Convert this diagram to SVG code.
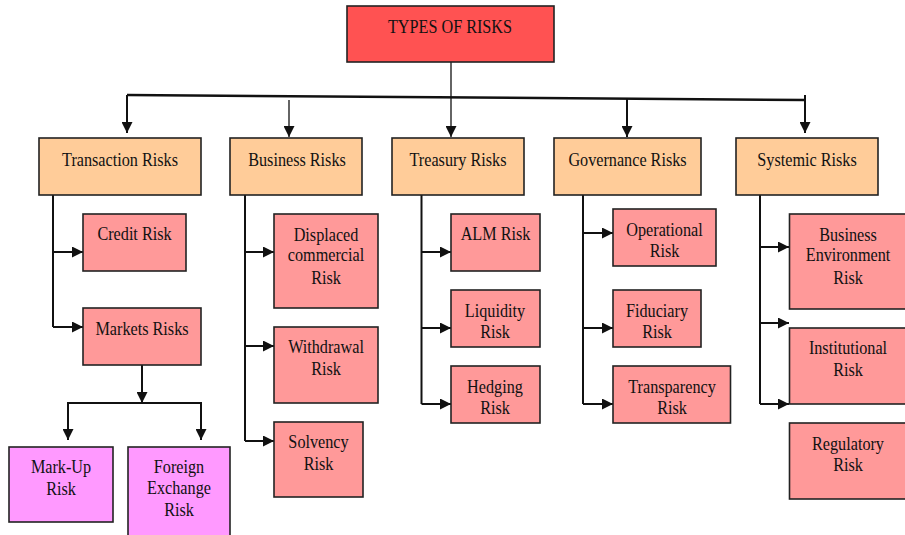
<svg xmlns="http://www.w3.org/2000/svg" width="905" height="535" viewBox="0 0 905 535">
<style>
text{font-family:"Liberation Serif","Times New Roman",serif;font-size:18px;fill:#111;text-anchor:middle}
.box{stroke:#222;stroke-width:1.6}
.top{fill:#FF5252}
.cat{fill:#FFCC99}
.sub{fill:#FF9999}
.leaf{fill:#FF99FF}
.ln{stroke:#111;stroke-width:2;fill:none}
.thin{stroke:#111;stroke-width:1.3;fill:none}
</style>
<defs>
<marker id="ah" markerUnits="userSpaceOnUse" markerWidth="11" markerHeight="11" refX="10" refY="5" orient="auto" viewBox="0 0 10 10">
<path d="M0,0 L10,5 L0,10 z" fill="#111"/>
</marker>
</defs>
<g id="connectors">
<line class="thin" x1="451" y1="62" x2="451" y2="137" marker-end="url(#ah)"/>
<line x1="127" y1="95" x2="805" y2="100" stroke="#111" stroke-width="2.6"/>
<line class="ln" x1="127" y1="95" x2="127" y2="133" marker-end="url(#ah)"/>
<line class="thin" x1="289" y1="100" x2="289" y2="137" marker-end="url(#ah)"/>
<line class="ln" x1="627" y1="99" x2="627" y2="137" marker-end="url(#ah)"/>
<line class="ln" x1="805" y1="95" x2="805" y2="133" marker-end="url(#ah)"/>
<polyline class="ln" points="53,195 53,327"/>
<line class="ln" x1="53" y1="252" x2="83" y2="252" marker-end="url(#ah)"/>
<line class="ln" x1="53" y1="327" x2="83" y2="327" marker-end="url(#ah)"/>
<line class="ln" x1="142" y1="365" x2="142" y2="403" marker-end="url(#ah)"/>
<polyline class="ln" points="68,403 201,403"/>
<line class="ln" x1="68" y1="402" x2="68" y2="440" marker-end="url(#ah)"/>
<line class="ln" x1="201" y1="402" x2="201" y2="440" marker-end="url(#ah)"/>
<polyline class="ln" points="245,195 245,441"/>
<line class="ln" x1="245" y1="252" x2="274" y2="252" marker-end="url(#ah)"/>
<line class="ln" x1="245" y1="346" x2="274" y2="346" marker-end="url(#ah)"/>
<line class="ln" x1="245" y1="441" x2="274" y2="441" marker-end="url(#ah)"/>
<polyline class="ln" points="421.5,195 421.5,404"/>
<line class="ln" x1="421.5" y1="252" x2="451" y2="252" marker-end="url(#ah)"/>
<line class="ln" x1="421.5" y1="328" x2="451" y2="328" marker-end="url(#ah)"/>
<line class="ln" x1="421.5" y1="404" x2="451" y2="404" marker-end="url(#ah)"/>
<polyline class="ln" points="583,195 583,404"/>
<line class="ln" x1="583" y1="233" x2="613" y2="233" marker-end="url(#ah)"/>
<line class="ln" x1="583" y1="328" x2="613" y2="328" marker-end="url(#ah)"/>
<line class="ln" x1="583" y1="404" x2="613" y2="404" marker-end="url(#ah)"/>
<polyline class="ln" points="760,195 760,404"/>
<line class="ln" x1="760" y1="247" x2="789" y2="247" marker-end="url(#ah)"/>
<line class="ln" x1="760" y1="323" x2="789" y2="323" marker-end="url(#ah)"/>
<line class="ln" x1="760" y1="404" x2="789" y2="404" marker-end="url(#ah)"/>
</g>
<g id="types-of-risks"><rect class="box top" x="347" y="6" width="207" height="56"/><text transform="translate(450,33) scale(0.9,1)">TYPES OF RISKS</text></g>
<g id="transaction-risks"><rect class="box cat" x="39" y="138" width="162" height="57"/><text transform="translate(120,166) scale(0.9,1)">Transaction Risks</text></g>
<g id="business-risks"><rect class="box cat" x="230" y="138" width="132" height="57"/><text transform="translate(297,166) scale(0.9,1)">Business Risks</text></g>
<g id="treasury-risks"><rect class="box cat" x="392" y="138" width="132" height="57"/><text transform="translate(458,166) scale(0.9,1)">Treasury Risks</text></g>
<g id="governance-risks"><rect class="box cat" x="554" y="138" width="147" height="57"/><text transform="translate(627.5,166) scale(0.9,1)">Governance Risks</text></g>
<g id="systemic-risks"><rect class="box cat" x="736" y="138" width="142" height="57"/><text transform="translate(807,166) scale(0.9,1)">Systemic Risks</text></g>
<g id="credit-risk"><rect class="box sub" x="83" y="214" width="103" height="57"/><text transform="translate(134.5,240) scale(0.9,1)">Credit Risk</text></g>
<g id="markets-risks"><rect class="box sub" x="83" y="308" width="118" height="57"/><text transform="translate(142,335) scale(0.9,1)">Markets Risks</text></g>
<g id="mark-up-risk"><rect class="box leaf" x="9" y="447" width="104" height="75"/><text transform="translate(61,473) scale(0.9,1)">Mark-Up</text><text transform="translate(61,495) scale(0.9,1)">Risk</text></g>
<g id="foreign-exchange-risk"><rect class="box leaf" x="128" y="447" width="102" height="95"/><text transform="translate(179,473) scale(0.9,1)">Foreign</text><text transform="translate(179,494) scale(0.9,1)">Exchange</text><text transform="translate(179,516) scale(0.9,1)">Risk</text></g>
<g id="displaced-commercial-risk"><rect class="box sub" x="274" y="214" width="104" height="94"/><text transform="translate(326,241) scale(0.9,1)">Displaced</text><text transform="translate(326,261) scale(0.9,1)">commercial</text><text transform="translate(326,284) scale(0.9,1)">Risk</text></g>
<g id="withdrawal-risk"><rect class="box sub" x="274" y="327" width="104" height="76"/><text transform="translate(326,353) scale(0.9,1)">Withdrawal</text><text transform="translate(326,375) scale(0.9,1)">Risk</text></g>
<g id="solvency-risk"><rect class="box sub" x="274" y="422" width="89" height="75"/><text transform="translate(318.5,448) scale(0.9,1)">Solvency</text><text transform="translate(318.5,470) scale(0.9,1)">Risk</text></g>
<g id="alm-risk"><rect class="box sub" x="451" y="214" width="89" height="57"/><text transform="translate(495.5,240) scale(0.9,1)">ALM Risk</text></g>
<g id="liquidity-risk"><rect class="box sub" x="451" y="290" width="89" height="57"/><text transform="translate(495,316.5) scale(0.9,1)">Liquidity</text><text transform="translate(495,337.5) scale(0.9,1)">Risk</text></g>
<g id="hedging-risk"><rect class="box sub" x="451" y="366" width="89" height="57"/><text transform="translate(495,392.5) scale(0.9,1)">Hedging</text><text transform="translate(495,413.5) scale(0.9,1)">Risk</text></g>
<g id="operational-risk"><rect class="box sub" x="613" y="209" width="103" height="57"/><text transform="translate(664.5,236) scale(0.9,1)">Operational</text><text transform="translate(664.5,257) scale(0.9,1)">Risk</text></g>
<g id="fiduciary-risk"><rect class="box sub" x="613" y="290" width="88" height="57"/><text transform="translate(657,316.5) scale(0.9,1)">Fiduciary</text><text transform="translate(657,337.5) scale(0.9,1)">Risk</text></g>
<g id="transparency-risk"><rect class="box sub" x="613" y="366" width="117.5" height="57"/><text transform="translate(672,392.5) scale(0.9,1)">Transparency</text><text transform="translate(672,413.5) scale(0.9,1)">Risk</text></g>
<g id="business-environment-risk"><rect class="box sub" x="789.5" y="214" width="125" height="95"/><text transform="translate(848,241) scale(0.9,1)">Business</text><text transform="translate(848,261) scale(0.9,1)">Environment</text><text transform="translate(848,284) scale(0.9,1)">Risk</text></g>
<g id="institutional-risk"><rect class="box sub" x="789.5" y="328" width="125" height="76"/><text transform="translate(848,354) scale(0.9,1)">Institutional</text><text transform="translate(848,376) scale(0.9,1)">Risk</text></g>
<g id="regulatory-risk"><rect class="box sub" x="789.5" y="423" width="125" height="76"/><text transform="translate(848,449.5) scale(0.9,1)">Regulatory</text><text transform="translate(848,471) scale(0.9,1)">Risk</text></g>
</svg>
